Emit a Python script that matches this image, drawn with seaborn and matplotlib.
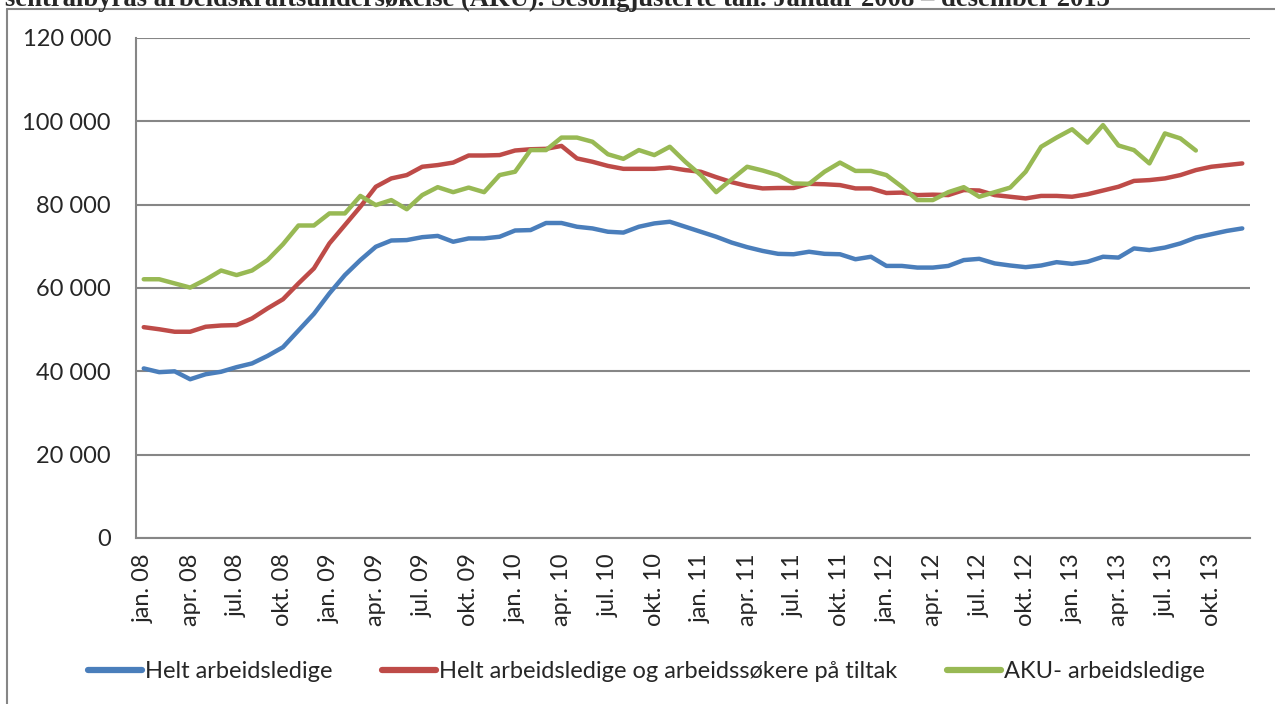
import numpy as np
import pandas as pd
import matplotlib
matplotlib.use("Agg")
import matplotlib.pyplot as plt
import seaborn as sns
from matplotlib.lines import Line2D
from matplotlib.ticker import FuncFormatter, FixedLocator

# Monthly data, jan. 2008 - des. 2013
years = ["08", "09", "10", "11", "12", "13"]
month_names = ["jan.", "apr.", "jul.", "okt."]

helt_ledige = [40700, 39800, 40000, 38100, 39300, 39900, 41000, 41900, 43700, 45800, 49800, 53800,
               58700, 63100, 66700, 69900, 71400, 71500, 72200, 72500, 71100, 71900, 71900, 72300,
               73800, 73900, 75600, 75600, 74700, 74300, 73500, 73300, 74700, 75500, 75900, 74700,
               73500, 72300, 70900, 69800, 68900, 68200, 68100, 68700, 68200, 68100, 66900, 67500,
               65300, 65300, 64900, 64900, 65300, 66700, 67000, 65900, 65400, 65000, 65400, 66200,
               65800, 66300, 67500, 67300, 69500, 69100, 69700, 70700, 72100, 72900, 73700, 74300]

ledige_tiltak = [50600, 50100, 49500, 49500, 50700, 51000, 51100, 52700, 55100, 57300, 61100, 64700,
                 70700, 75100, 79500, 84300, 86300, 87100, 89100, 89500, 90100, 91800, 91800, 91900,
                 93000, 93300, 93400, 94100, 91100, 90300, 89300, 88600, 88600, 88600, 88900, 88300,
                 87900, 86600, 85400, 84500, 83900, 84000, 84000, 85000, 84900, 84700, 83900, 83900,
                 82800, 82900, 82300, 82400, 82300, 83500, 83400, 82300, 81900, 81500, 82100, 82100,
                 81900, 82500, 83400, 84300, 85700, 85900, 86300, 87100, 88300, 89100, 89500, 89900]

# AKU ends in september 2013
aku_ledige = [62100, 62100, 61100, 60100, 62000, 64200, 63100, 64200, 66700, 70500, 75000, 75000,
              77900, 77900, 82100, 79900, 81100, 78900, 82300, 84200, 83000, 84100, 83000, 87100,
              87900, 93100, 93100, 96100, 96100, 95100, 92100, 91000, 93100, 91900, 93900, 90300,
              87100, 83000, 86100, 89100, 88200, 87100, 85100, 85000, 87900, 90100, 88100, 88100,
              87100, 84300, 81100, 81100, 83000, 84200, 81900, 83000, 84100, 87900, 93900, 96100,
              98100, 94900, 99100, 94200, 93100, 89900, 97100, 95900, 93000]

series_names = ["Helt arbeidsledige",
                "Helt arbeidsledige og arbeidssøkere på tiltak",
                "AKU- arbeidsledige"]
colors = ["#4A7EBB", "#BE4B48", "#98B954"]

title = ("sentralbyrås arbeidskraftsundersøkelse (AKU). Sesongjusterte tall. "
         "Januar 2008 \u2013 desember 2013")

tick_labels = [f"{m} {y}" for y in years for m in month_names]

# long format for seaborn
frames = []
for name, vals in zip(series_names, [helt_ledige, ledige_tiltak, aku_ledige]):
    frames.append(pd.DataFrame({"mnd": np.arange(len(vals)), "antall": vals, "serie": name}))
df = pd.concat(frames, ignore_index=True)

sns.set_style("white")
plt.rcParams["font.family"] = ["Lato", "DejaVu Sans"]

W, H = 1275, 704
fig = plt.figure(figsize=(W / 100, H / 100), dpi=100)
ax = fig.add_axes([136 / W, 1 - 538 / H, (1250 - 136) / W, 500 / H])

sns.lineplot(data=df, x="mnd", y="antall", hue="serie", hue_order=series_names,
             palette=colors, linewidth=3.2, sort=False, legend=False, ax=ax)
for ln in ax.get_lines():
    ln.set_solid_joinstyle("round")
    ln.set_solid_capstyle("round")

grid_col = "#868686"
ax.set_xlim(-0.5, 71.5)
ax.set_ylim(0, 120000)
ax.set_yticks(np.arange(0, 120001, 20000))
ax.yaxis.set_major_formatter(FuncFormatter(lambda v, p: f"{int(v):,}".replace(",", " ")))
ax.grid(axis="y", color=grid_col, linewidth=1.5)
ax.set_axisbelow(True)

# tick marks between categories, labels on the category
ax.xaxis.set_major_locator(FixedLocator(np.arange(-0.5, 72, 3)))
ax.xaxis.set_minor_locator(FixedLocator(np.arange(0, 72, 3)))
ax.set_xticklabels([""] * 25)
ax.set_xticklabels(tick_labels, minor=True, rotation=90)
ax.tick_params(axis="x", which="major", length=7, width=1.5, color=grid_col, direction="out")
ax.tick_params(axis="x", which="minor", length=0, pad=11, labelsize=17)
ax.tick_params(axis="y", length=7, width=1.5, color=grid_col, direction="out", pad=11, labelsize=17)
ax.set_xlabel("")
ax.set_ylabel("")

sns.despine(ax=ax, top=True, right=True)
for s in ["left", "bottom"]:
    ax.spines[s].set_color(grid_col)
    ax.spines[s].set_linewidth(1.5)

handles = [Line2D([], [], color=c, linewidth=4.5, solid_capstyle="round") for c in colors]
fig.legend(handles, series_names, loc="center", bbox_to_anchor=(0.507, 1 - 672 / H), ncol=3,
           frameon=False, fontsize=17, handlelength=2.3, handletextpad=0.12, columnspacing=2.1)

# outer frame of the chart
fig.add_artist(Line2D([7 / W, 7 / W], [0, 1 - 9 / H], transform=fig.transFigure,
                      color=grid_col, linewidth=1.5))
fig.add_artist(Line2D([7 / W, 1], [1 - 9 / H, 1 - 9 / H], transform=fig.transFigure,
                      color=grid_col, linewidth=1.5))

# caption cut off at the top like in the original
fig.text(5 / W, 1 - 6 / H, title, fontfamily=["Liberation Serif", "DejaVu Serif"],
         fontweight="bold", fontsize=19.2, va="baseline", ha="left")

fig.savefig("out.png", dpi=100)
